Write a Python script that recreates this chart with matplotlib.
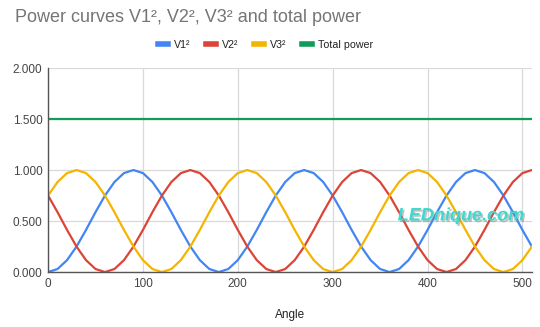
import matplotlib
matplotlib.use("Agg")
import matplotlib.pyplot as plt
import matplotlib.patheffects as pe

# angle in degrees, 10 degree steps from 0 to 510
angle = list(range(0, 520, 10))

v1_sq = [0.000, 0.030, 0.117, 0.250, 0.413, 0.587, 0.750, 0.883, 0.970, 1.000, 0.970, 0.883, 0.750, 0.587, 0.413, 0.250, 0.117, 0.030,
         0.000, 0.030, 0.117, 0.250, 0.413, 0.587, 0.750, 0.883, 0.970, 1.000, 0.970, 0.883, 0.750, 0.587, 0.413, 0.250, 0.117, 0.030,
         0.000, 0.030, 0.117, 0.250, 0.413, 0.587, 0.750, 0.883, 0.970, 1.000, 0.970, 0.883, 0.750, 0.587, 0.413, 0.250]
v2_sq = [0.750, 0.587, 0.413, 0.250, 0.117, 0.030,
         0.000, 0.030, 0.117, 0.250, 0.413, 0.587, 0.750, 0.883, 0.970, 1.000, 0.970, 0.883, 0.750, 0.587, 0.413, 0.250, 0.117, 0.030,
         0.000, 0.030, 0.117, 0.250, 0.413, 0.587, 0.750, 0.883, 0.970, 1.000, 0.970, 0.883, 0.750, 0.587, 0.413, 0.250, 0.117, 0.030,
         0.000, 0.030, 0.117, 0.250, 0.413, 0.587, 0.750, 0.883, 0.970, 1.000]
v3_sq = [0.750, 0.883, 0.970, 1.000, 0.970, 0.883, 0.750, 0.587, 0.413, 0.250, 0.117, 0.030,
         0.000, 0.030, 0.117, 0.250, 0.413, 0.587, 0.750, 0.883, 0.970, 1.000, 0.970, 0.883, 0.750, 0.587, 0.413, 0.250, 0.117, 0.030,
         0.000, 0.030, 0.117, 0.250, 0.413, 0.587, 0.750, 0.883, 0.970, 1.000, 0.970, 0.883, 0.750, 0.587, 0.413, 0.250, 0.117, 0.030,
         0.000, 0.030, 0.117, 0.250]
total_power = [1.500] * 52

series = [("V1²", v1_sq, "#4285F4"),
          ("V2²", v2_sq, "#DB4437"),
          ("V3²", v3_sq, "#F4B400"),
          ("Total power", total_power, "#0F9D58")]

plt.rcParams['font.family'] = ['Liberation Sans', 'DejaVu Sans']

fig = plt.figure(figsize=(5.4, 3.27), dpi=100)
ax = fig.add_axes([0.089, 0.168, 0.896, 0.624])

for name, vals, col in series:
    ax.plot(angle, vals, color=col, linewidth=1.6, label=name)

ax.set_xlim(0, 510)
ax.set_ylim(0, 2)
ax.set_xticks([0, 100, 200, 300, 400, 500])
ax.set_yticks([0, 0.5, 1.0, 1.5, 2.0])
ax.set_yticklabels(["0.000", "0.500", "1.000", "1.500", "2.000"])
ax.tick_params(length=0, labelsize=8.5, labelcolor="#444444", pad=4)
ax.grid(True, color="#d9d9d9", linewidth=0.9)
ax.set_axisbelow(True)
for s in ["top", "right"]:
    ax.spines[s].set_visible(False)
for s in ["left", "bottom"]:
    ax.spines[s].set_color("#555555")
    ax.spines[s].set_linewidth(1.0)

ax.set_xlabel("Angle", fontsize=8.5, color="#222222", labelpad=14)

fig.text(0.028, 0.945, "Power curves V1², V2², V3² and total power",
         fontsize=13, color="#757575", va="center", ha="left")

fig.legend(loc="center", bbox_to_anchor=(0.492, 0.862), ncol=4, frameon=False,
           fontsize=7.7, handlelength=0.9, handletextpad=0.55, columnspacing=1.5,
           labelcolor="#222222")
for line in fig.legends[0].get_lines():
    line.set_linewidth(4)

ax.text(435, 0.55, "LEDnique.com", fontsize=13, fontweight="bold", style="italic",
        color="#3dd9d0", ha="center", va="center", clip_on=False,
        path_effects=[pe.withSimplePatchShadow(offset=(1.2, -1.2), shadow_rgbFace="#888888", alpha=0.5)])

fig.savefig("out.png", dpi=100)
